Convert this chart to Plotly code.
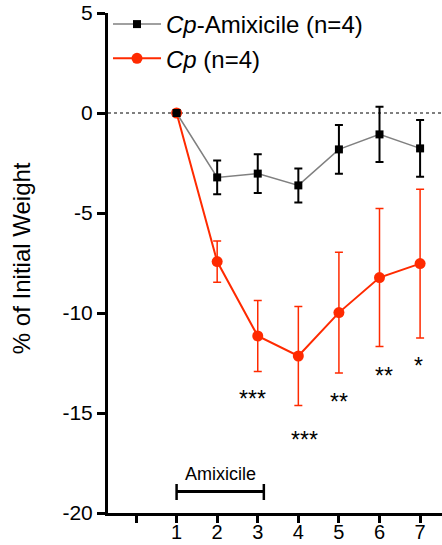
import plotly.graph_objects as go

# Days of measurement
days = [1, 2, 3, 4, 5, 6, 7]

# Mean % of initial weight and SD per group
amix_mean = [0, -3.22, -3.03, -3.62, -1.82, -1.07, -1.77]
amix_sd = [0, 0.84, 0.97, 0.85, 1.22, 1.38, 1.42]

cp_mean = [0, -7.43, -11.15, -12.15, -9.98, -8.23, -7.53]
cp_sd = [0, 1.03, 1.78, 2.47, 3.02, 3.45, 3.72]

# Significance labels (Cp vs Cp-Amixicile)
star_x = [2.88, 4.15, 5.0, 6.1, 6.95]
star_y = [-14.0, -16.05, -14.15, -12.85, -12.35]
star_text = ["***", "***", "**", "**", "*"]

# Treatment window
treat_start, treat_end, treat_y = 1, 3.15, -18.93
treat_label = "Amixicile"

x_ticks = [0, 1, 2, 3, 4, 5, 6, 7]
x_ticktext = ["", "1", "2", "3", "4", "5", "6", "7"]
y_ticks = [5, 0, -5, -10, -15, -20]
y_ticktext = ["5", "0", "-5", "-10", "-15", "-20"]

RED = "#FF2A00"
FONT = "Liberation Sans, Arial, sans-serif"

fig = go.Figure()

fig.add_trace(go.Scatter(
    x=days, y=cp_mean, name="<i>Cp</i> (n=4)", mode="lines+markers",
    line=dict(color=RED, width=2),
    marker=dict(symbol="circle", size=11, color=RED),
    error_y=dict(type="data", array=cp_sd, color=RED, thickness=1.5, width=4),
    legendrank=2,
))
fig.add_trace(go.Scatter(
    x=days, y=amix_mean, name="<i>Cp</i>-Amixicile (n=4)", mode="lines+markers",
    line=dict(color="#808080", width=1.5),
    marker=dict(symbol="square", size=8, color="black"),
    error_y=dict(type="data", array=amix_sd, color="black", thickness=2, width=4),
    legendrank=1,
))

# Dotted baseline at 0%
fig.add_shape(type="line", xref="paper", yref="y", x0=0, x1=1, y0=0, y1=0,
              line=dict(color="#555555", width=1.5, dash="dot"), layer="below")

# Treatment bracket
fig.add_shape(type="line", x0=treat_start, x1=treat_end, y0=treat_y, y1=treat_y,
              line=dict(color="black", width=3))
for xv in (treat_start, treat_end):
    fig.add_shape(type="line", x0=xv, x1=xv, y0=treat_y + 0.38, y1=treat_y - 0.42,
                  line=dict(color="black", width=2.5))
fig.add_annotation(x=(treat_start + treat_end) / 2, y=treat_y + 0.88, text=treat_label,
                   showarrow=False, font=dict(size=18, color="black", family=FONT))

for sx, sy, st in zip(star_x, star_y, star_text):
    fig.add_annotation(x=sx, y=sy - 0.3, text=st, showarrow=False,
                       font=dict(size=23, color="black", family=FONT))

# Y-axis title
fig.add_annotation(xref="paper", yref="paper", x=-0.26, y=0.51, xanchor="center",
                   yanchor="middle", text="% of Initial Weight",
                   textangle=-90, showarrow=False,
                   font=dict(size=24, color="black", family=FONT))

fig.update_layout(
    width=442, height=545,
    margin=dict(l=108, r=0, t=13, b=32),
    plot_bgcolor="white", paper_bgcolor="white",
    font=dict(family=FONT, color="black"),
    showlegend=True,
    legend=dict(x=0.0, y=1.022, xanchor="left", yanchor="top",
                traceorder="normal",
                font=dict(size=24, family=FONT), bgcolor="rgba(0,0,0,0)",
                itemwidth=48),
    xaxis=dict(range=[-0.69, 7.54], tickvals=x_ticks, ticktext=x_ticktext,
               showgrid=False, zeroline=False, showline=True, linecolor="black",
               linewidth=3, ticks="outside", ticklen=7, tickwidth=2.5, tickcolor="black",
               tickfont=dict(size=20), ticklabelstandoff=-8, automargin=False),
    yaxis=dict(range=[-20, 5], tickvals=y_ticks, ticktext=y_ticktext, showgrid=False,
               zeroline=False, showline=True, linecolor="black", linewidth=3,
               ticks="outside", ticklen=8, tickwidth=2.5, tickcolor="black",
               tickfont=dict(size=21), automargin=False),
)

fig.write_html("out.html")
